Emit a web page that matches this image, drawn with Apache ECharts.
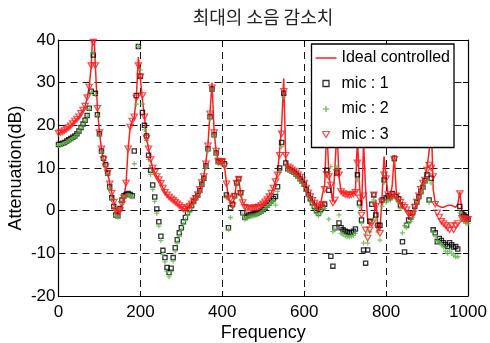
<!DOCTYPE html>
<html><head><meta charset="utf-8">
<script src="https://cdn.jsdelivr.net/npm/echarts@6/dist/echarts.min.js"></script>
<style>html,body{margin:0;padding:0;background:#fff}#c{width:490px;height:343px}</style>
</head><body><div id="c"></div>
<script>
const freq = [
0,5,10,15,20,25,30,35,40,45,50,55,60,65,70,75,80,85,90,95,
100,105,110,115,120,125,130,135,140,145,150,155,160,165,170,175,180,185,190,195,
200,205,210,215,220,225,230,235,240,245,250,255,260,265,270,275,280,285,290,295,
300,305,310,315,320,325,330,335,340,345,350,355,360,365,370,375,380,385,390,395,
400,405,410,415,420,425,430,435,440,445,450,455,460,465,470,475,480,485,490,495,
500,505,510,515,520,525,530,535,540,545,550,555,560,565,570,575,580,585,590,595,
600,605,610,615,620,625,630,635,640,645,650,655,660,665,670,675,680,685,690,695,
700,705,710,715,720,725,730,735,740,745,750,755,760,765,770,775,780,785,790,795,
800,805,810,815,820,825,830,835,840,845,850,855,860,865,870,875,880,885,890,895,
900,905,910,915,920,925,930,935,940,945,950,955,960,965,970,975,980,985,990,995,
1000];
const ideal = [
18.2,18.3,18.5,18.8,19.1,19.5,19.9,20.4,21,21.5,22,22.8,23.6,24.5,26.5,29,34,45,34,24,
18.3,14.5,12,10.3,8.9,6.5,4.3,2.2,0.3,-0.5,0.2,1.5,3.2,6.5,14.5,19.6,21,22,26.4,36,
31,26,22,17,14.5,12,10,9,8,7.3,6.4,5.3,4.3,3.7,3.2,2.8,2.4,2,1.6,1.2,
0.8,0.5,0.4,0.7,1.1,1.6,2.3,3,3.8,5,6.6,8.2,11.5,15.5,23,30,18.5,14,11.8,11.6,
11.6,10.8,6.5,3,2,1.5,3,7,7.5,4,2,1.2,1.5,1,1.3,0.8,1.3,0.9,1.4,1.2,
1.8,2.3,3,3.6,4.2,5.5,7,9,14,20,31,12,10.5,10,9.7,9.3,9,8.5,8,7.4,
6.8,5.5,4.3,3.2,2.3,1.6,1,0.7,1.5,4,6,20,9,5,2,10,19,8,4.5,4.2,
4,3.8,3.8,3.9,4.1,4.5,17,6,0,16,5,-2,-3.5,-2.5,-1.5,2.5,-4,-4.5,3,12.7,
8,3.5,3,6,13,4,2.5,2,1,0.5,0,-0.5,-1,-0.5,0.5,2,3.5,5,6.5,8,
10,14,22,5,1.8,1.2,1,0.8,0.8,1,1.2,1.3,1.2,1,0.8,1.5,4.4,0,-0.5,-0.8,
-1];
const mic1 = [
15.5,15.6,15.8,16,16.3,16.6,16.9,17.2,17.5,18,18.7,19.5,20.3,21.2,22.3,24,28,36.5,27.5,22.5,
18,14,12.3,10.8,8.8,5.6,3,1,-1,-1.2,0.5,2.5,3.5,3.8,4,3.8,3.5,14,27,38.5,
31.5,23,20,17.5,13,9.5,6,3.2,0.4,-2.6,-6,-9.3,-11,-13.3,-14.5,-13.5,-11,-8.7,-6.8,-5.2,
-4,-2.6,-1.6,-0.5,0.3,1.2,2.2,3,3.6,4.7,6.2,7.6,10.5,14.5,22,28.5,17.8,13.5,11.5,11.4,
11.6,11,3.7,-4,0.7,1.5,3.5,6.5,7.4,4.2,-0.5,-1.6,-1.3,-1,-0.9,-0.8,-0.7,-0.6,-0.4,-0.1,
0.3,0.8,1.3,1.8,2.3,2.8,3.3,5.6,10,16,27.5,11.2,9.8,9.6,9.3,9,8.6,8.1,7.5,6.9,
6.2,5,3.8,2.8,1.8,1,0,-0.6,0.2,0.8,1.5,9.5,4.8,-10.7,-13,-4,8.8,-2.9,-4,-4.5,
-4.8,-5,-5.2,-5.1,-4.8,-4.3,8.4,1.8,-2.2,-9.2,-12.3,-9.2,-2.5,1.5,3.7,-1,-3.4,-3.4,2.5,7.2,
3,3.5,3.3,4,12.3,3.3,2.8,1.3,-7.3,-9.7,-3.4,-2.2,-1.5,-0.5,1,2,3.3,4.5,5.5,7,
8.4,2.5,7.6,-4.5,-5.2,-7.3,-6.5,-7,-7.5,-8,-8.4,-7.5,-8,-8.5,-8.4,-9,1,-0.5,-1,-1.5,
-2];
const mic2 = [
15.3,15.4,15.6,15.8,16.1,16.4,16.7,17,17.3,17.8,18.5,19.3,20.1,21,22.1,23.8,27.8,37,27.2,22.2,
17.7,13.7,12,10.5,8.5,5.3,2.7,0.7,-1.3,-1.5,0.2,2.2,3.2,3.5,3.7,3.5,3.2,11,25,38.5,
33,25,19,16.5,12,8.5,5,2.2,-0.6,-3.6,-7,-10.3,-12,-14.3,-15.5,-14.3,-11.8,-9.5,-7.6,-6,
-4.6,-3.2,-2.2,-1.1,-0.3,0.6,1.6,2.5,3.2,4.3,5.8,7.2,10,14,21.5,28.3,17.5,13,11,11,
11.2,10.5,3,-4.5,-1.6,0.8,3,6,6.8,3.5,-1,-2,-1.8,-1.5,-1.4,-1.3,-1.2,-1,-0.8,-0.5,
0,0.5,1,1.4,1.8,2.3,1.3,4.5,9,15,26.6,10.5,9.5,9.3,9,8.6,8.2,7.6,7,6.4,
5.8,4.6,3.3,2.2,1.2,0.3,-0.6,-1.2,-0.5,0.5,0.5,8.5,-2,10.3,-4.9,-4.5,10.2,-1,-5.3,-5.6,
-5.9,-6.1,-6.2,-6,-5.8,-5.3,7.2,0.9,-3,-7.6,-5.5,-7.6,-5,-3,2.5,-2,-5,-6.9,1,6.5,
2,2.5,2.5,3,11.5,2.8,2,0.5,-5.2,-3.5,-4,-3,-2.5,-1.5,0,1.5,2.8,4,5,6.5,
7,2,6.5,-5,-6,-7,-7.5,-8,-8.5,-9.5,-10,-9.5,-10,-10.4,-10.8,-10.8,-0.5,-2,-2.5,-3,
-3];
const mic3 = [
18.2,18.3,18.5,18.8,19.1,19.5,19.9,20.4,21,21.5,22,22.8,23.6,24.5,26.5,29,34,39.5,34,24,
18.3,14.5,12,10.3,8.9,6.3,4.1,2,0,-0.5,0,1.5,3,6.5,14.5,19.6,21,22,26.4,34,
31.4,27,22,17,14.5,12,10,9,8,7.3,6.4,5.3,4.3,3.7,3.2,2.8,2.4,2,1.6,1.2,
0.8,0.4,0.4,0.7,1.1,1.6,2.3,2.9,3.8,5,6.6,8,11,15.2,22.7,28.8,18.3,14,11.6,11.5,
11.5,10.5,6.3,3,2.7,1.2,3.4,6.5,7.4,4,1.9,0.8,0.5,0.6,0.5,0.6,0.7,0.7,0.9,1.2,
1.6,2.1,2.6,3.3,4.1,5.3,6.8,8.4,13,18,28,13,10.3,10,9.6,9.3,8.9,8.4,7.9,7.2,
6.5,5.3,4.2,3.3,2.4,1.8,1,0.6,1.2,1.5,5,8.5,8,6,1.8,2.5,9,8.4,4.5,4,
3.8,3.7,3.6,3.7,3.9,4.3,11.2,3,-1,3.5,-4.5,-6.4,-4.5,-3,3.7,1,-4,-5.3,2,8.4,
7.5,3.8,3,3.5,12,3.5,2.5,2,1.2,0.8,0.2,-0.8,-1.4,-0.8,0.8,2,3.5,5,6.5,7.2,
9.5,10.7,10,8,1.5,-0.5,-1.5,-2.5,-3,-3.5,-4,-4.5,-3.5,-4.5,-3.5,-3,4,-1.8,-2,-2.2,
-2];
const xTicks = [0,200,400,600,800,1000];
const yTicks = [-20,-10,0,10,20,30,40];

const pairs = arr => freq.map((f,i) => [f, arr[i]]);
const font = '"Liberation Sans", Arial, sans-serif';
const RED = '#ff1f1f', GREEN = '#5dba45';
const plusPath = 'path://M1.85,0h1.3v1.85h1.85v1.3h-1.85v1.85h-1.3v-1.85h-1.85v-1.3h1.85z';
const triPath = 'path://M0,0L10,0L5,8.66Z';
const sqPath = 'path://M0,0h10v10h-10z';
const linePath = 'path://M0,0h21v1.5h-21z';

const chart = echarts.init(document.getElementById('c'), null, {renderer:'canvas'});
const axisCommon = {
  axisLine:{show:true,onZero:false,lineStyle:{color:'#000',width:1.2}},
  axisTick:{show:true,inside:true,length:5,lineStyle:{color:'#000',width:1}}
};
chart.setOption({
  animation:false,
  backgroundColor:'#fff',
  title:{text:'최대의 소음 감소치', left:263, top:8, textAlign:'center', padding:0,
    textStyle:{fontFamily:'"Noto Sans CJK KR", sans-serif', fontSize:18, fontWeight:'normal', color:'#222'}},
  grid:{left:58.5, right:22, top:40, bottom:47, outerBoundsMode:'none', containLabel:false},
  legend:{left:311.5, top:44, orient:'vertical', selectedMode:false,
    backgroundColor:'#fff', borderColor:'#000', borderWidth:1.3, borderRadius:0,
    padding:[5,4,4,4], itemGap:7.5, itemWidth:21, itemHeight:6,
    textStyle:{fontSize:16, color:'#000', fontFamily:font, lineHeight:18},
    data:[
      {name:'Ideal controlled', icon:linePath, itemStyle:{color:RED, borderWidth:0}},
      {name:'mic : 1', icon:sqPath, itemStyle:{color:'rgba(0,0,0,0)', borderColor:'#000', borderWidth:1.3}},
      {name:'mic : 2', icon:plusPath, itemStyle:{color:GREEN, borderWidth:0}},
      {name:'mic : 3', icon:triPath, itemStyle:{color:'rgba(0,0,0,0)', borderColor:RED, borderWidth:1.2}}
    ]},
  xAxis:[
    Object.assign({type:'value', min:xTicks[0], max:xTicks[xTicks.length-1], interval:200,
      name:'Frequency', nameLocation:'middle', nameGap:28, nameMoveOverlap:false,
      nameTextStyle:{fontSize:18,color:'#000',fontFamily:font},
      axisLabel:{fontSize:17,color:'#000',margin:8,fontFamily:font, formatter:v => String(v)},
      splitLine:{show:true,lineStyle:{color:'#000',type:[7,5],width:0.9}}}, axisCommon),
    Object.assign({type:'value', position:'top', min:0, max:1000, interval:200,
      axisLabel:{show:false}, splitLine:{show:false}}, axisCommon)
  ],
  yAxis:[
    Object.assign({type:'value', min:yTicks[0], max:yTicks[yTicks.length-1], interval:10,
      name:'Attenuation(dB)', nameLocation:'middle', nameGap:33, nameMoveOverlap:false,
      nameTextStyle:{fontSize:18,color:'#000',fontFamily:font},
      axisLabel:{fontSize:17,color:'#000',margin:3,fontFamily:font, formatter:v => String(v)},
      splitLine:{show:true,lineStyle:{color:'#000',type:[7,5],width:0.9}}}, axisCommon),
    Object.assign({type:'value', position:'right', min:-20, max:40, interval:10,
      axisLabel:{show:false}, splitLine:{show:false}}, axisCommon)
  ],
  series:[
    {name:'Ideal controlled', type:'line', data:pairs(ideal), symbol:'none', showSymbol:false, clip:true,
      lineStyle:{color:RED, width:1.5}, itemStyle:{color:RED}, z:2},
    {name:'mic : 1', type:'scatter', data:pairs(mic1), symbol:'rect', symbolSize:4.2, clip:true,
      itemStyle:{color:'rgba(0,0,0,0)', borderColor:'#000', borderWidth:1.3}, z:3},
    {name:'mic : 2', type:'scatter', data:pairs(mic2), symbol:plusPath, symbolSize:5, clip:true,
      itemStyle:{color:GREEN}, z:3},
    {name:'mic : 3', type:'scatter', data:pairs(mic3), symbol:triPath, symbolSize:[6.4,5.5], clip:true,
      itemStyle:{color:'rgba(0,0,0,0)', borderColor:RED, borderWidth:1.2}, z:3}
  ]
});
</script></body></html>
